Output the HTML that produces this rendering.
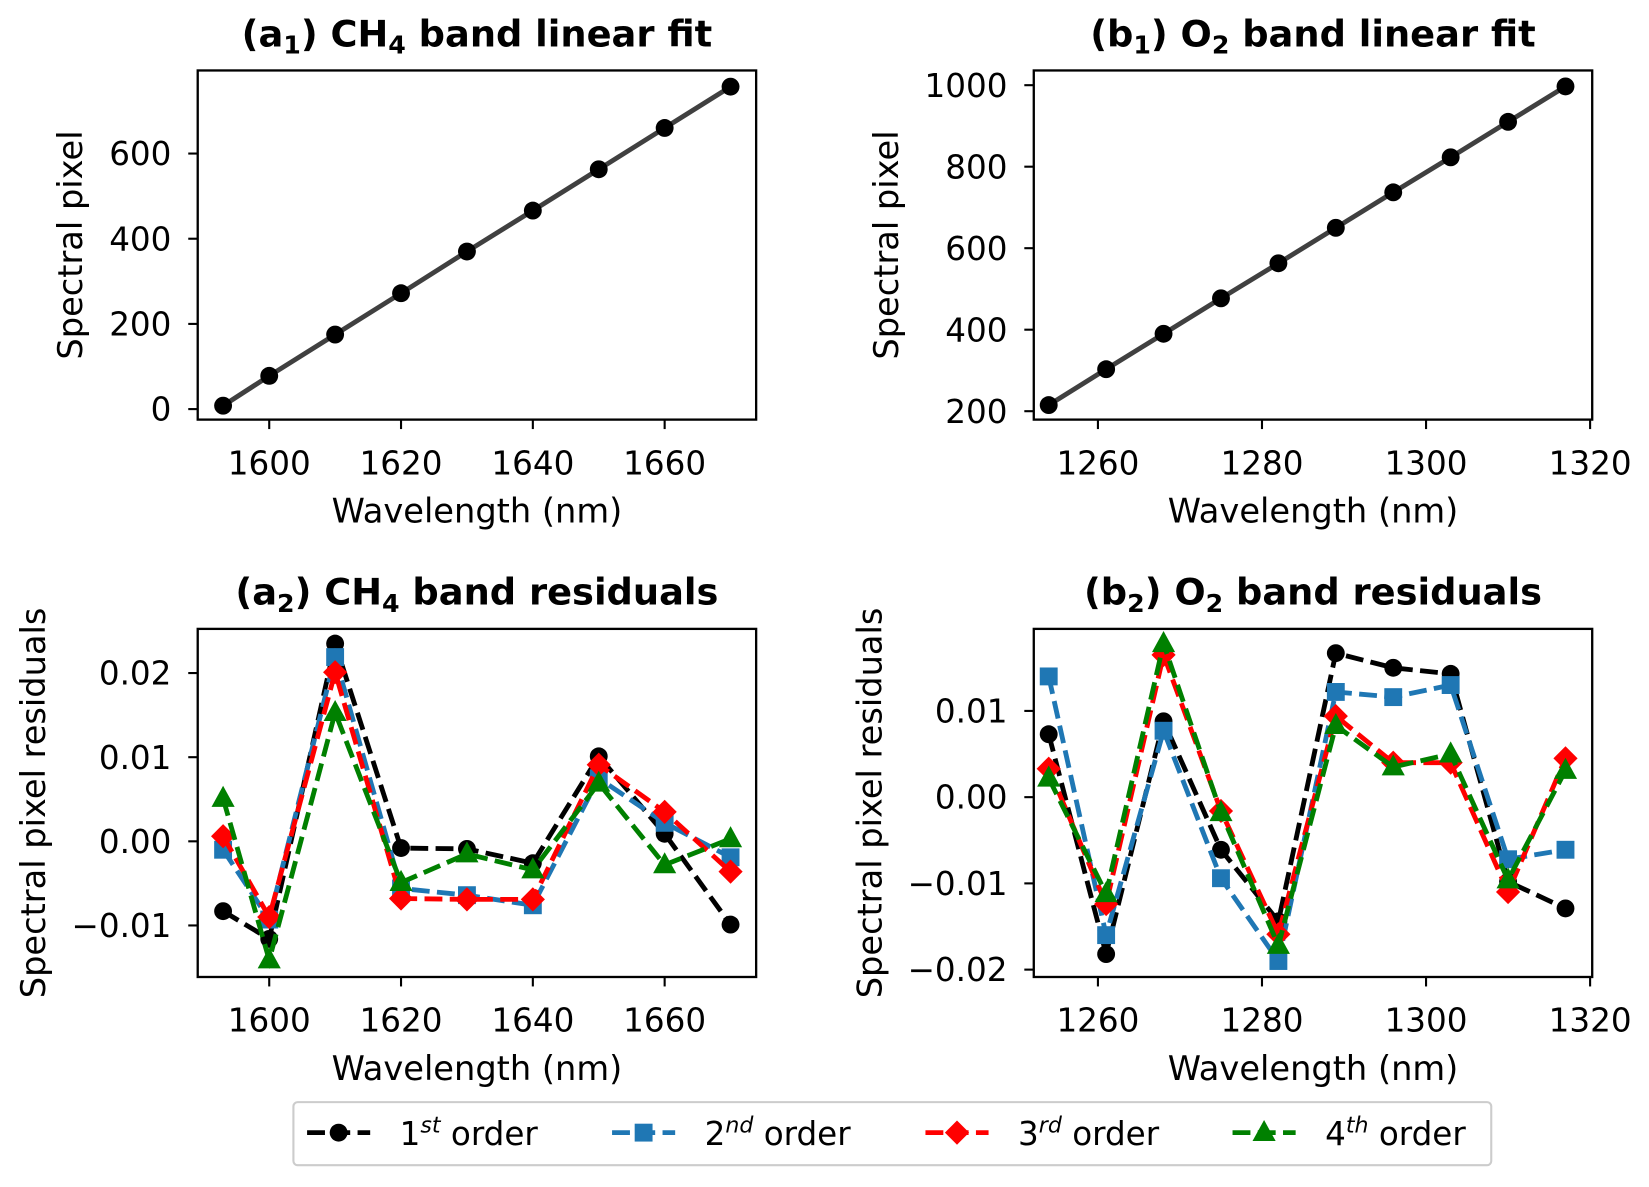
<!DOCTYPE html>
<html><head><meta charset="utf-8"><style>
html,body{margin:0;padding:0;background:#fff;}
svg{display:block;font-family:"DejaVu Sans","Liberation Sans",sans-serif;}
</style></head><body>
<svg id="fig" width="1649" height="1187" viewBox="0 0 1568 1128.7" xmlns="http://www.w3.org/2000/svg"></svg>
<script>
const ch4X = [1593,1600,1610,1620,1630,1640,1650,1660,1670];
const ch4Fit = [8,78,175,272,370,466,563,660,757];
const o2X = [1254,1261,1268,1275,1282,1289,1296,1303,1310,1317];
const o2Fit = [215,303,390,477,563,650,737,823,910,997];
const ch4R1 = [-0.0083,-0.0116,0.0235,-0.0008,-0.0009,-0.0026,0.0101,0.0009,-0.0099];
const ch4R2 = [-0.0010,-0.0093,0.0219,-0.0056,-0.0064,-0.0076,0.0075,0.0022,-0.0019];
const ch4R3 = [0.0006,-0.0090,0.0201,-0.0068,-0.0069,-0.0069,0.0091,0.0035,-0.0036];
const ch4R4 = [0.0051,-0.0141,0.0153,-0.0049,-0.0015,-0.0034,0.0069,-0.0028,0.0003];
const o2R1 = [0.0073,-0.0182,0.0088,-0.0061,-0.0144,0.0167,0.0150,0.0143,-0.0098,-0.0129];
const o2R2 = [0.0140,-0.0160,0.0077,-0.0094,-0.0190,0.0122,0.0116,0.0130,-0.0072,-0.0061];
const o2R3 = [0.0033,-0.0124,0.0165,-0.0016,-0.0159,0.0094,0.0040,0.0040,-0.0110,0.0045];
const o2R4 = [0.0022,-0.0112,0.0178,-0.0018,-0.0172,0.0083,0.0035,0.0050,-0.0096,0.0031];
const ch4XTicks = [1600,1620,1640,1660];
const o2XTicks = [1260,1280,1300,1320];
const a1YTicks = [0,200,400,600];
const b1YTicks = [200,400,600,800,1000];
const a2YTicks = [-0.01,0.00,0.01,0.02];
const b2YTicks = [-0.02,-0.01,0.00,0.01];
const a2YLabels = ["\u22120.01","0.00","0.01","0.02"];
const b2YLabels = ["\u22120.02","\u22120.01","0.00","0.01"];

const NS="http://www.w3.org/2000/svg";
const svg=document.getElementById('fig');
function mk(tag,attrs,parent){const e=document.createElementNS(NS,tag);for(const k in attrs)e.setAttribute(k,attrs[k]);(parent||svg).appendChild(e);return e;}
function lin(d0,d1,r0,r1){return v=>r0+(v-d0)*(r1-r0)/(d1-d0);}

function marker(g,type,x,y,color){
  let m;
  if(type==='o') m=mk('circle',{cx:x,cy:y,r:8.5,fill:color},g);
  else if(type==='s') m=mk('rect',{x:x-8.5,y:y-8.5,width:17,height:17,fill:color},g);
  else if(type==='D') m=mk('polygon',{points:`${x},${y-11.5} ${x+11.5},${y} ${x},${y+11.5} ${x-11.5},${y}`,fill:color},g);
  else m=mk('polygon',{points:`${x},${y-12} ${x+11},${y+8} ${x-11},${y+8}`,fill:color},g);
  
  
}

function axes(name,box,xs,ys,xticks,yticks,ylabels,title,sub,mol,ylabel,ylabX){
  const g=mk('g',{});
  
  
  const t=mk('text',{x:(box.l+box.r)/2,y:box.t-23,'text-anchor':'middle','font-size':35,'font-weight':'bold'},g);
  
  
  t.innerHTML=`(${title.p}<tspan font-size="24" dy="7">${sub}</tspan><tspan dy="-7">) ${mol.a}</tspan><tspan font-size="24" dy="7">${mol.s}</tspan><tspan dy="-7"> ${title.rest}</tspan>`;
  xticks.forEach(v=>{const x=xs(v);
    mk('line',{x1:x,x2:x,y1:box.b,y2:box.b+9,stroke:'#000','stroke-width':2},g);
    const tx=mk('text',{x:x,y:box.b+52,'text-anchor':'middle','font-size':31},g);tx.textContent=v;
    
    });
  yticks.forEach((v,i)=>{const y=ys(v);
    mk('line',{x1:box.l-9,x2:box.l,y1:y,y2:y,stroke:'#000','stroke-width':2},g);
    const ty=mk('text',{x:box.l-25,y:y+11,'text-anchor':'end','font-size':31},g);ty.textContent=ylabels?ylabels[i]:v;
    
    });
  const xl=mk('text',{x:(box.l+box.r)/2,y:box.b+98,'text-anchor':'middle','font-size':32},g);xl.textContent='Wavelength (nm)';
  
  
  const cy=(box.t+box.b)/2;
  const yl=mk('text',{x:ylabX,y:cy,'text-anchor':'middle','font-size':32,transform:`rotate(-90 ${ylabX} ${cy})`},g);yl.textContent=ylabel;
  
  
  return g;
}
function frame(g,box){const r=mk('rect',{x:box.l,y:box.t,width:box.r-box.l,height:box.b-box.t,fill:'none',stroke:'#000','stroke-width':2.2},g);
  
  }

function series(g,xv,yv,xs,ys,color,mtype,dashed,name){
  const sg=mk('g',{},g);
  
  
  const pts=xv.map((x,i)=>xs(x)+','+ys(yv[i])).join(' ');
  const a={points:pts,fill:'none',stroke:color,'stroke-width':4.6};
  if(dashed)a['stroke-dasharray']='17,7';
  mk('polyline',a,sg);
  xv.forEach((x,i)=>marker(sg,mtype,xs(x),ys(yv[i]),color));
}

// a1
const A1={l:188,r:719,t:67,b:399};
let xs=lin(1600,1660,256,632), ys=lin(0,600,389,146);
let g=axes('panel-a1',A1,xs,ys,ch4XTicks,a1YTicks,null,{p:'a',rest:'band linear fit'},'1',{a:'CH',s:'4'},'Spectral pixel',78);
series(g,ch4X,ch4Fit,xs,ys,'#000','o',false,'ch4-fit-line');
g.lastChild.firstChild.setAttribute('stroke','#404040');
frame(g,A1);
// b1
const B1={l:983,r:1514,t:67,b:399};
xs=lin(1260,1320,1044,1512); ys=lin(200,1000,391,81);
g=axes('panel-b1',B1,xs,ys,o2XTicks,b1YTicks,null,{p:'b',rest:'band linear fit'},'1',{a:'O',s:'2'},'Spectral pixel',854);
series(g,o2X,o2Fit,xs,ys,'#000','o',false,'o2-fit-line');
g.lastChild.firstChild.setAttribute('stroke','#404040');
frame(g,B1);
// a2
const A2={l:188,r:719,t:598,b:929};
xs=lin(1600,1660,256,632); ys=lin(-0.01,0.02,880,640);
g=axes('panel-a2',A2,xs,ys,ch4XTicks,a2YTicks,a2YLabels,{p:'a',rest:'band residuals'},'2',{a:'CH',s:'4'},'Spectral pixel residuals',43);
series(g,ch4X,ch4R1,xs,ys,'#000','o',true,'ch4-1st-order');
series(g,ch4X,ch4R2,xs,ys,'#1f77b4','s',true,'ch4-2nd-order');
series(g,ch4X,ch4R3,xs,ys,'#ff0000','D',true,'ch4-3rd-order');
series(g,ch4X,ch4R4,xs,ys,'#008000','^',true,'ch4-4th-order');
frame(g,A2);
// b2
const B2={l:983,r:1514,t:598,b:929};
xs=lin(1260,1320,1044,1512); ys=lin(-0.02,0.01,922,676);
g=axes('panel-b2',B2,xs,ys,o2XTicks,b2YTicks,b2YLabels,{p:'b',rest:'band residuals'},'2',{a:'O',s:'2'},'Spectral pixel residuals',838);
series(g,o2X,o2R1,xs,ys,'#000','o',true,'o2-1st-order');
series(g,o2X,o2R2,xs,ys,'#1f77b4','s',true,'o2-2nd-order');
series(g,o2X,o2R3,xs,ys,'#ff0000','D',true,'o2-3rd-order');
series(g,o2X,o2R4,xs,ys,'#008000','^',true,'o2-4th-order');
frame(g,B2);

// legend
const lg=mk('g',{});


mk('rect',{x:279,y:1048,width:1139,height:60,rx:4,fill:'#fff',stroke:'#ccc','stroke-width':2},lg);
const entries=[['#000','o','1','st',292],['#1f77b4','s','2','nd',582],['#ff0000','D','3','rd',880],['#008000','^','4','th',1172]];
entries.forEach(e=>{
  const eg=mk('g',{},lg);
  
  
  mk('line',{x1:e[4],x2:e[4]+60,y1:1077,y2:1077,stroke:e[0],'stroke-width':4.6,'stroke-dasharray':'17,7'},eg);
  marker(eg,e[1],e[4]+30,1077,e[0]);
  const t=mk('text',{x:e[4]+88,y:1089,'font-size':31},eg);
  t.innerHTML=`${e[2]}<tspan font-size="21" font-style="italic" dy="-12">${e[3]}</tspan><tspan dy="12"> order</tspan>`;
});
</script>
</body></html>
